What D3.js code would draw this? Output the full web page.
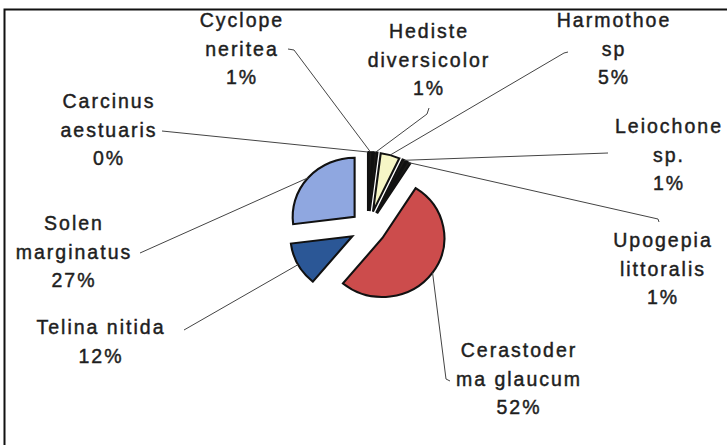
<!DOCTYPE html>
<html><head><meta charset="utf-8">
<script src="https://cdn.jsdelivr.net/npm/d3@7"></script>
<style>html,body{margin:0;padding:0;background:#fff;}svg{display:block}</style>
</head><body><svg id="c" width="727" height="445"></svg>
<script>
// ---- data ----
const species = ["Carcinus aestuaris","Cyclope neritea","Hediste diversicolor","Harmothoe sp","Leiochone sp.","Upogepia littoralis","Cerastoderma glaucum","Telina nitida","Solen marginatus"];
const percents = [0, 1, 1, 5, 1, 1, 52, 12, 27];
const nameLines = [["Carcinus","aestuaris"],["Cyclope","neritea"],["Hediste","diversicolor"],["Harmothoe","sp"],["Leiochone","sp."],["Upogepia","littoralis"],["Cerastoder","ma glaucum"],["Telina nitida"],["Solen","marginatus"]];

// ---- style / layout ----
const sliceColors = ["#1c1a18","#1c1a18","#1c1a18","#f6f6c6","#1c1a18","#1c1a18","#cc4c4c","#2b5796","#8fa7e0"];
const labelPos = [[108,108],[241,27],[428,38],[613,27],[668,133],[662,247],[518,357],[100,334],[73,230]];
const leaderStart = [[[162,131]],[[288,49],[294,50]],[[429,108],[427,114]],[[568,52],[564,53]],[[608,153]],[[659,222],[658,219]],[[450,381],[446,379]],[[184,330]],[[140,253]]];
const cx = 368, cy = 228, R = 59, explode = 17, sx = 1.05, lineH = 28.5;

const svg = d3.select("#c");
svg.append("rect").attr("width",727).attr("height",445).attr("fill","#fff");
// border (open to right/bottom as in the reference)
svg.append("path").attr("d","M4.5,445 L4.5,9.5 L727,9.5").attr("fill","none").attr("stroke","#111").attr("stroke-width",2);

const pie = d3.pie().sort(null).value(d => d)(percents);
const arc = d3.arc().innerRadius(0).outerRadius(R);

const g = svg.append("g").attr("transform",`translate(${cx},${cy}) scale(${sx},1)`);
g.selectAll("path").data(pie).join("path")
  .attr("d", arc)
  .attr("transform", d => { const m=(d.startAngle+d.endAngle)/2; return `translate(${explode*Math.sin(m)},${-explode*Math.cos(m)})`; })
  .attr("fill", (d,i) => sliceColors[i])
  .attr("stroke","#111").attr("stroke-width",2).attr("stroke-linejoin","miter");

// leader lines
const line = d3.line();
pie.forEach((d,i) => {
  const m = (d.startAngle+d.endAngle)/2, rr = R + explode;
  const end = [cx + sx*rr*Math.sin(m), cy - rr*Math.cos(m)];
  svg.append("path").attr("d", line([...leaderStart[i], end]))
    .attr("fill","none").attr("stroke","#444").attr("stroke-width",1);
});

// labels
pie.forEach((d,i) => {
  const lines = [...nameLines[i], percents[i] + "%"];
  const t = svg.append("text")
    .attr("text-anchor","middle")
    .attr("font-family","'Liberation Sans', Arial, sans-serif")
    .attr("font-size",19.5)
    .attr("letter-spacing",2).attr("fill","#1e1e1e")
    .attr("stroke","#1e1e1e").attr("stroke-width",0.45);
  lines.forEach((s,k) => t.append("tspan").attr("x",labelPos[i][0]+1).attr("y",labelPos[i][1]+k*lineH).text(s));
});
</script></body></html>
